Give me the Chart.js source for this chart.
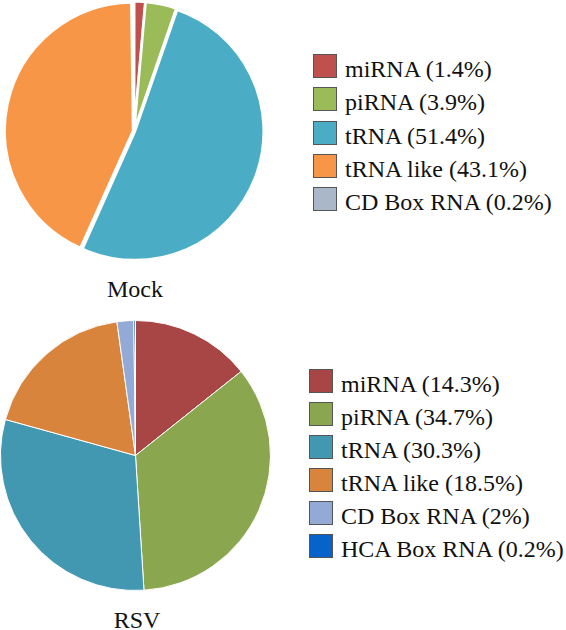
<!DOCTYPE html>
<html lang="en">
<head>
  <meta charset="UTF-8">
  <title>Small RNA composition: Mock vs RSV</title>
  <script src="https://cdn.jsdelivr.net/npm/chart.js"></script>
  <style>
    body { margin: 0; background: #fff; }
    #wrap { position: relative; width: 566px; height: 630px; overflow: hidden; font-family: "Liberation Serif", "Times New Roman", serif; color: #111; }
    canvas { position: absolute; }
    .cap { position: absolute; font-size: 24px; line-height: 24px; text-align: center; width: 100px; }
    .item { position: absolute; height: 24px; white-space: nowrap; font-size: 24px; }
    .item .box { position: absolute; left: 0; top: 0; width: 22px; height: 22px; border: 1px solid #555; }
    .item .txt { position: absolute; left: 32px; line-height: 24px; top: 3px; }
  </style>
</head>
<body>
  <div id="wrap">
    <canvas id="mock" width="262" height="262" style="left:3px;top:0px"></canvas>
    <canvas id="rsv" width="271" height="271" style="left:0px;top:320px"></canvas>
    <div class="cap" style="left:85px;top:277px">Mock</div>
    <div class="cap" style="left:87px;top:608px">RSV</div>
  </div>

  <script>
    // top pie (Mock)
    const mockLabels = ["miRNA", "piRNA", "tRNA", "tRNA like", "CD Box RNA"];
    const mockValues = [1.4, 3.9, 51.4, 43.1, 0.2];
    const mockColors = ["#C0504D", "#9BBB59", "#4BACC6", "#F79646", "#AAB7C9"];

    // bottom pie (RSV)
    const rsvLabels = ["miRNA", "piRNA", "tRNA", "tRNA like", "CD Box RNA", "HCA Box RNA"];
    const rsvValues = [14.3, 34.7, 30.3, 18.5, 2, 0.2];
    const rsvColors = ["#A84645", "#8AA64F", "#4298B0", "#D9843D", "#94AAD6", "#0563C9"];

    function makePie(id, labels, values, colors, offset, border) {
      return new Chart(document.getElementById(id), {
        type: "pie",
        data: {
          labels: labels,
          datasets: [{
            data: values,
            backgroundColor: colors,
            borderColor: "#ffffff",
            borderWidth: border,
            offset: offset
          }]
        },
        options: {
          responsive: false,
          animation: false,
          rotation: 0,
          plugins: { legend: { display: false }, tooltip: { enabled: false } }
        }
      });
    }

    makePie("mock", mockLabels, mockValues, mockColors, 4, 2.5);
    makePie("rsv", rsvLabels, rsvValues, rsvColors, 0, 1);

    function legend(labels, values, colors, x, y, pitch) {
      const wrap = document.getElementById("wrap");
      labels.forEach(function(lab, i) {
        const it = document.createElement("div");
        it.className = "item";
        it.style.left = x + "px";
        it.style.top = (y + i * pitch) + "px";
        it.innerHTML = '<span class="box" style="background:' + colors[i] + '"></span>' +
          '<span class="txt">' + lab + " (" + values[i] + "%)</span>";
        wrap.appendChild(it);
      });
    }

    legend(mockLabels, mockValues, mockColors, 313, 54, 33.3);
    legend(rsvLabels, rsvValues, rsvColors, 309, 369, 33);
  </script>
</body>
</html>
